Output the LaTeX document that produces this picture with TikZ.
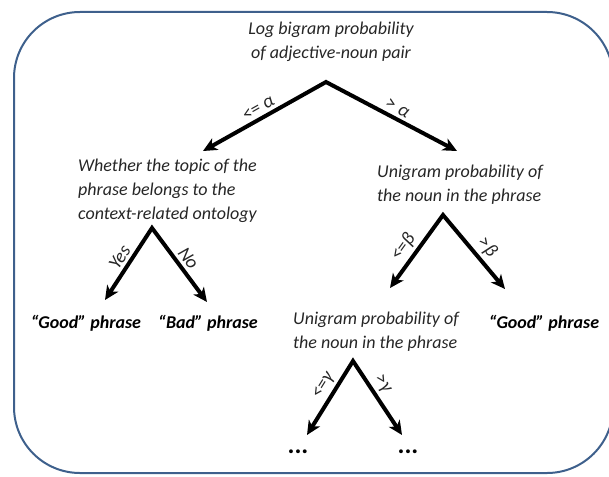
\documentclass[tikz,border=0pt]{standalone}
\usepackage{fontspec}
\setmainfont{Carlito}
\usetikzlibrary{arrows.meta}
\definecolor{frameblue}{RGB}{62,96,140}
\begin{document}
\begin{tikzpicture}[x=1pt, y=-1pt, font=\fontsize{18}{24}\selectfont\itshape,
    txt/.style={inner sep=0pt, text=black!85},
    leaf/.style={inner sep=0pt, font=\fontsize{18}{24}\selectfont\bfseries\itshape},
    branch/.style={line width=4pt,
      {Stealth[length=14pt,width=13pt,inset=4pt]}-{Stealth[length=14pt,width=13pt,inset=4pt]}},
    cond/.style={sloped, above, inner sep=3pt, text=black!85,
      font=\fontsize{19}{20}\selectfont\itshape}]
  \useasboundingbox (0,0) rectangle (609,476);
  \draw[frameblue, line width=2pt, rounded corners=66pt] (14,12) rectangle (613,473);
  % questions
  \node[txt, align=center] (bigram) at (331,42) {Log bigram probability\\of adjective-noun pair};
  \node[txt, align=left, anchor=west] (topic) at (78,191)
    {Whether the topic of the\\phrase belongs to the\\context-related ontology};
  \node[txt, align=left, anchor=west] (unigram) at (377,185)
    {Unigram probability of\\the noun in the phrase};
  \node[txt, align=left, anchor=west] (unigram2) at (293,332)
    {Unigram probability of\\the noun in the phrase};
  % answers
  \node[leaf] (good1) at (86,323) {“Good” phrase};
  \node[leaf] (bad) at (208,323) {“Bad” phrase};
  \node[leaf] (good2) at (544,323) {“Good” phrase};
  \node[leaf, font=\fontsize{26}{26}\selectfont\bfseries] (more1) at (298,452) {...};
  \node[leaf, font=\fontsize{26}{26}\selectfont\bfseries] (more2) at (408,452) {...};
  % branch points
  \coordinate (ap1) at (326,82);  \coordinate (lt1) at (203,151); \coordinate (rt1) at (457,151);
  \coordinate (ap2) at (152,228); \coordinate (lt2) at (105,300); \coordinate (rt2) at (207,302);
  \coordinate (ap3) at (443,215); \coordinate (lt3) at (390,288); \coordinate (rt3) at (505,289);
  \coordinate (ap4) at (353,361); \coordinate (lt4) at (307,435); \coordinate (rt4) at (402,435);
  \foreach \n/\l/\r/\pl/\pr in {1/{<= α}/{> α}/0.49/0.51, 2/Yes/No/0.51/0.5,
      3/{<=β}/{>β}/0.45/0.55, 4/{<=γ}/{>γ}/0.58/0.4}
    \draw[branch] (lt\n) -- node[cond, pos=\pl] {\l} (ap\n) -- node[cond, pos=\pr] {\r} (rt\n);
\end{tikzpicture}
\end{document}
